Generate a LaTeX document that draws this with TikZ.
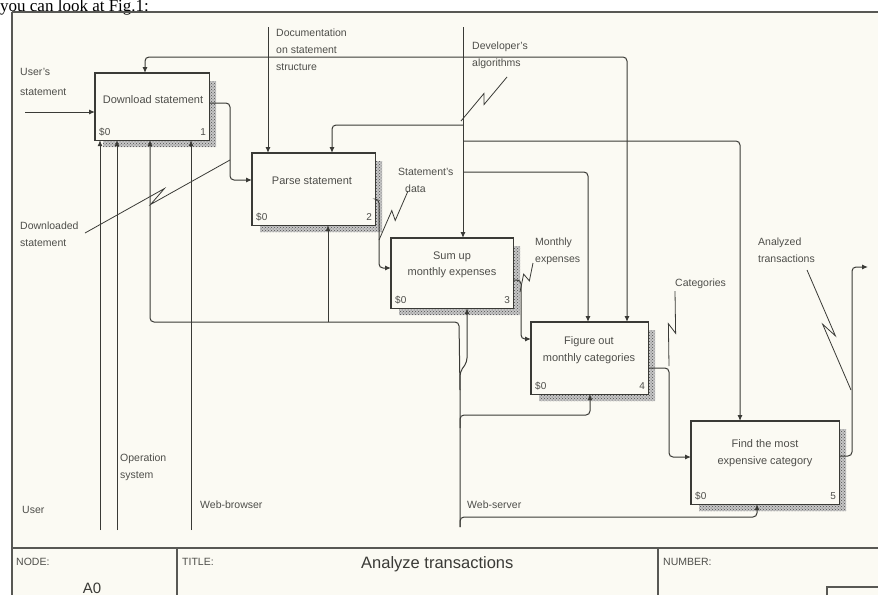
\documentclass[tikz,border=0pt]{standalone}
\usepackage{fontspec}
\setmainfont{Liberation Sans}
\newfontfamily\serifnote{Liberation Serif}
\usetikzlibrary{arrows.meta,calc,patterns}
\definecolor{paper}{RGB}{251,250,243}
\definecolor{ink}{RGB}{58,58,54}
\definecolor{txt}{RGB}{78,78,74}
\begin{document}
\begin{tikzpicture}[x=1pt,y=-1pt,
  box/.style={draw=ink, line width=1.1pt, fill=paper, inner sep=0, anchor=north west},
  conn/.style={draw=ink, line width=1pt, rounded corners=4pt},
  arr/.style={conn, -{Latex[length=6pt,width=5pt]}},
  frame/.style={draw=ink!85, line width=1.3pt},
  lbl/.style={font=\fontsize{10.5}{17}\selectfont, text=txt, align=left, inner sep=0, anchor=west},
  boxtxt/.style={font=\fontsize{11}{16.5}\selectfont, text=txt, align=center, inner sep=0},
  corner/.style={font=\fontsize{10}{12}\selectfont, text=txt, inner sep=0},
  lead/.style={draw=ink, line width=0.8pt, to path={-- ($(\tikztostart)!0.56!(\tikztotarget)!4pt!90:(\tikztotarget)$) -- ($(\tikztostart)!0.44!(\tikztotarget)!4pt!-90:(\tikztotarget)$) -- (\tikztotarget)}}
]
\useasboundingbox (0,0) rectangle (878,595);
\fill[white] (0,0) rectangle (878,595);
\fill[paper] (12,12) rectangle (878,595);

% cut-off text above the frame
\node[font=\serifnote\fontsize{17}{20}\selectfont, anchor=base west, inner sep=0] (fig) at (0,11) {you can look at Fig.1:};

% frame
\draw[frame] (12,12) -- (878,12);
\draw[frame] (12,12) -- (12,595);
\draw[frame] (12,548) -- (878,548);
\draw[frame] (177,548) -- (177,595);
\draw[frame] (658,548) -- (658,595);
\draw[frame] (827,595) -- (827,587) -- (878,587);

% boxes (shadows first)
\path (95,73) node[box, draw=none, fill=none, minimum width=113pt, minimum height=66pt] (b1) {};
\path (252,153) node[box, draw=none, fill=none, minimum width=122pt, minimum height=71pt] (b2) {};
\path (391,238) node[box, draw=none, fill=none, minimum width=121pt, minimum height=69pt] (b3) {};
\path (531,322) node[box, draw=none, fill=none, minimum width=116pt, minimum height=71pt] (b4) {};
\path (691,421) node[box, draw=none, fill=none, minimum width=147pt, minimum height=82pt] (b5) {};
\foreach \b in {b1,b2,b3,b4,b5}{
  \fill[gray!45] ($(\b.north east)+(0,8)$) -- ($(\b.north east)+(7,8)$) -- ($(\b.south east)+(7,7)$) -- ($(\b.south west)+(8,7)$) -- ($(\b.south west)+(8,0)$) -- (\b.south east) -- cycle;
  \fill[pattern=crosshatch dots, pattern color=black!70] ($(\b.north east)+(0,8)$) -- ($(\b.north east)+(7,8)$) -- ($(\b.south east)+(7,7)$) -- ($(\b.south west)+(8,7)$) -- ($(\b.south west)+(8,0)$) -- (\b.south east) -- cycle;
  \draw[draw=ink, line width=1.1pt, fill=paper] (\b.north west) rectangle (\b.south east);
}

% box texts
\node[boxtxt] (t1) at (153,100) {Download statement};
\node[boxtxt] (t2) at (312,181) {Parse statement};
\node[boxtxt] (t3) at (452,265) {Sum up\\monthly expenses};
\node[boxtxt] (t4) at (589,350) {Figure out\\monthly categories};
\node[boxtxt] (t5) at (765,453) {Find the most\\expensive category};
\foreach \b/\n in {b1/1,b2/2,b3/3,b4/4,b5/5}{
  \node[corner, anchor=west] at ($(\b.south west)+(4,-8)$) {\$0};
  \node[corner, anchor=east] at ($(\b.south east)+(-3,-8)$) {\n};
}

% input
\coordinate (usIn) at (25,112);
\draw[arr] (usIn) -- (usIn -| b1.west);

% controls
\coordinate (docTop) at (268,27);
\draw[arr] (docTop) -- (docTop |- b2.north);
\coordinate (devTop) at (463,27);
\draw[arr] (devTop) -- (devTop |- b3.north);
\coordinate (j1) at (463,57);
\coordinate (c1) at (145,57);
\coordinate (c4a) at (627,57);
\draw[arr] (j1) -- (c1) -- (c1 |- b1.north);
\draw[arr] (j1) -- (c4a) -- (c4a |- b4.north);
\coordinate (j2) at (463,125);
\coordinate (c2) at (332,125);
\draw[arr] (j2) -- (c2) -- (c2 |- b2.north);
\coordinate (j3) at (463,141);
\coordinate (c5) at (740,141);
\draw[arr] (j3) -- (c5) -- (c5 |- b5.north);
\coordinate (j4) at (463,172);
\coordinate (c4b) at (588,172);
\draw[arr] (j4) -- (c4b) -- (c4b |- b4.north);

% outputs
\coordinate (o1a) at (230,103); \coordinate (o1b) at (230,180);
\draw[arr] (b1.east |- o1a) -- (o1a) -- (o1b) -- (b2.west |- o1b);
\coordinate (o2a) at (379,199); \coordinate (o2b) at (379,268);
\draw[arr] (b2.east |- o2a) -- (o2a) -- (o2b) -- (b3.west |- o2b);
\coordinate (o3a) at (521,280); \coordinate (o3b) at (521,339);
\draw[arr] (b3.east |- o3a) -- (o3a) -- (o3b) -- (b4.west |- o3b);
\coordinate (o4a) at (669,368); \coordinate (o4b) at (669,457);
\draw[arr] (b4.east |- o4a) -- (o4a) -- (o4b) -- (b5.west |- o4b);
\coordinate (o5a) at (852,456); \coordinate (o5b) at (852,267); \coordinate (outEnd) at (868,267);
\draw[arr] (b5.east |- o5a) -- (o5a) -- (o5b) -- (outEnd);

% mechanisms
\coordinate (mU) at (100,530);
\coordinate (mO) at (117,530);
\coordinate (mW) at (191,530);
\draw[arr] (mU) -- (mU |- b1.south);
\draw[arr] (mO) -- (mO |- b1.south);
\draw[arr] (mW) -- (mW |- b1.south);
\coordinate (ws) at (460,527);
\coordinate (wsA) at (460,372);
\coordinate (wsB) at (467,362);
\draw[arr] (ws) -- (wsA) -- (wsB) -- (wsB |- b3.south);
\coordinate (busA) at (460,390);
\coordinate (busB) at (459,322);
\coordinate (busC) at (150,322);
\draw[arr] (busA) -- (busB) -- (busC) -- (busC |- b1.south);
\coordinate (m2) at (328,322);
\draw[arr] (m2) -- (m2 |- b2.south);
\coordinate (m4a) at (460,428); \coordinate (m4b) at (460,415); \coordinate (m4c) at (590,415);
\draw[arr] (m4a) -- (m4b) -- (m4c) -- (m4c |- b4.south);
\coordinate (m5a) at (460,527); \coordinate (m5b) at (460,517); \coordinate (m5c) at (757,517);
\draw[arr] (m5a) -- (m5b) -- (m5c) -- (m5c |- b5.south);

% labels
\node[lbl] (lUS) at (20,82) {User's\\[3pt]statement};
\node[lbl] (lDoc) at (276,50) {Documentation\\on statement\\structure};
\node[lbl] (lDev) at (472,55) {Developer's\\algorithms};
\node[lbl] (lDS) at (20,234) {Downloaded\\statement};
\node[lbl] (lSD) at (398,180) {Statement's\\\hspace*{7pt}data};
\node[lbl] (lME) at (535,251) {Monthly\\expenses};
\node[lbl] (lCat) at (675,284) {Categories};
\node[lbl] (lAT) at (758,250) {Analyzed\\transactions};
\node[lbl] (lOS) at (120,467) {Operation\\system};
\node[lbl] (lU) at (22,510) {User};
\node[lbl] (lWB) at (200,505) {Web-browser};
\node[lbl] (lWS) at (467,505) {Web-server};

% label leaders
\coordinate (dA) at (507,77); \coordinate (dB) at (461,121);
\draw[lead] (dA) to (dB);
\coordinate (dsA) at (85,233); \coordinate (dsB) at (230,160);
\draw[lead] (dsA) to (dsB);
\coordinate (sdA) at (408,191); \coordinate (sdB) at (379,240);
\draw[lead] (sdA) to (sdB);
\coordinate (meA) at (533,263); \coordinate (meB) at (520,292);
\draw[lead] (meA) to (meB);
\coordinate (caA) at (675,291); \coordinate (caB) at (669,366);
\draw[lead] (caA) to (caB);
\coordinate (atA) at (807,270); \coordinate (atB) at (851,390);
\draw[lead] (atA) to (atB);

% title block
\node[lbl] (nNode) at (16,562) {NODE:};
\node[lbl] (nTitle) at (182,562) {TITLE:};
\node[lbl] (nNum) at (663,562) {NUMBER:};
\node[font=\fontsize{16.5}{20}\selectfont, text=ink, inner sep=0, anchor=west] (nAT) at (361,564) {Analyze transactions};
\node[font=\fontsize{15}{18}\selectfont, text=ink, inner sep=0] (nA0) at (92,588) {A0};
\end{tikzpicture}
\end{document}
